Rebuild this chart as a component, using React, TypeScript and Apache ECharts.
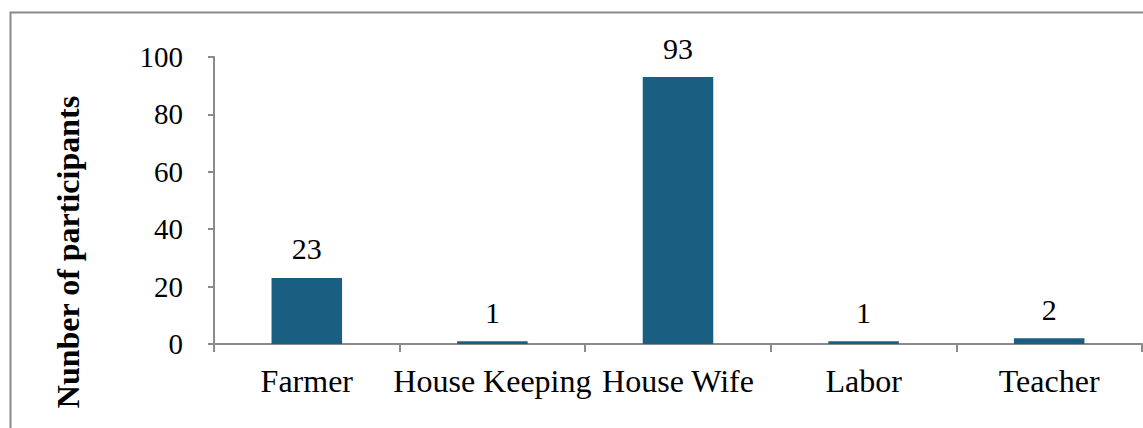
import React, { useEffect, useRef } from "react";
import * as echarts from "echarts";

const categories = ["Farmer", "House Keeping", "House Wife", "Labor", "Teacher"];
const participants = [23, 1, 93, 1, 2];
const yTicks = { min: 0, max: 100, interval: 20 };
const yAxisTitle = "Nunber of participants";

export default function App() {
  const ref = useRef<HTMLDivElement>(null);
  useEffect(() => {
    if (!ref.current) return;
    const chart = echarts.init(ref.current, null, { renderer: "svg" });
    const font = "'Liberation Serif', 'Times New Roman', serif";
    chart.setOption({
      animation: false,
      backgroundColor: "#ffffff",
      graphic: [
        {
          type: "rect",
          shape: { x: 10.5, y: 12.5, width: 1150, height: 440 },
          style: { fill: "none", stroke: "#8a8a8a", lineWidth: 2 },
          silent: true,
        },
        {
          type: "text",
          x: 68,
          y: 252,
          rotation: Math.PI / 2,
          style: {
            text: yAxisTitle,
            fill: "#000",
            font: "bold 32px 'Liberation Serif', 'Times New Roman', serif",
            align: "center",
            verticalAlign: "middle",
          },
          silent: true,
        },
      ],
      grid: { left: 214, right: 1, top: 57, bottom: 84, containLabel: false },
      xAxis: {
        type: "category",
        data: categories,
        axisLine: { show: true, lineStyle: { color: "#8a8a8a", width: 2 } },
        axisTick: { show: true, length: 8, lineStyle: { color: "#8a8a8a", width: 2 } },
        axisLabel: { color: "#000", fontFamily: font, fontSize: 32, margin: 21, interval: 0 },
      },
      yAxis: {
        type: "value",
        min: yTicks.min,
        max: yTicks.max,
        interval: yTicks.interval,
        axisLine: { show: true, lineStyle: { color: "#8a8a8a", width: 2 } },
        axisTick: { show: true, length: 6, lineStyle: { color: "#8a8a8a", width: 2 } },
        splitLine: { show: false },
        axisLabel: { color: "#000", fontFamily: font, fontSize: 29, margin: 31 },
      },
      series: [
        {
          type: "bar",
          data: participants,
          barWidth: "38%",
          itemStyle: { color: "#195f82" },
          label: {
            show: true,
            position: "top",
            distance: 14,
            color: "#000",
            fontFamily: font,
            fontSize: 30,
          },
        },
      ],
    });
    return () => chart.dispose();
  }, []);
  return (
    <div
      ref={ref}
      style={{ position: "fixed", left: 0, top: 0, width: 1143, height: 428 }}
    />
  );
}
